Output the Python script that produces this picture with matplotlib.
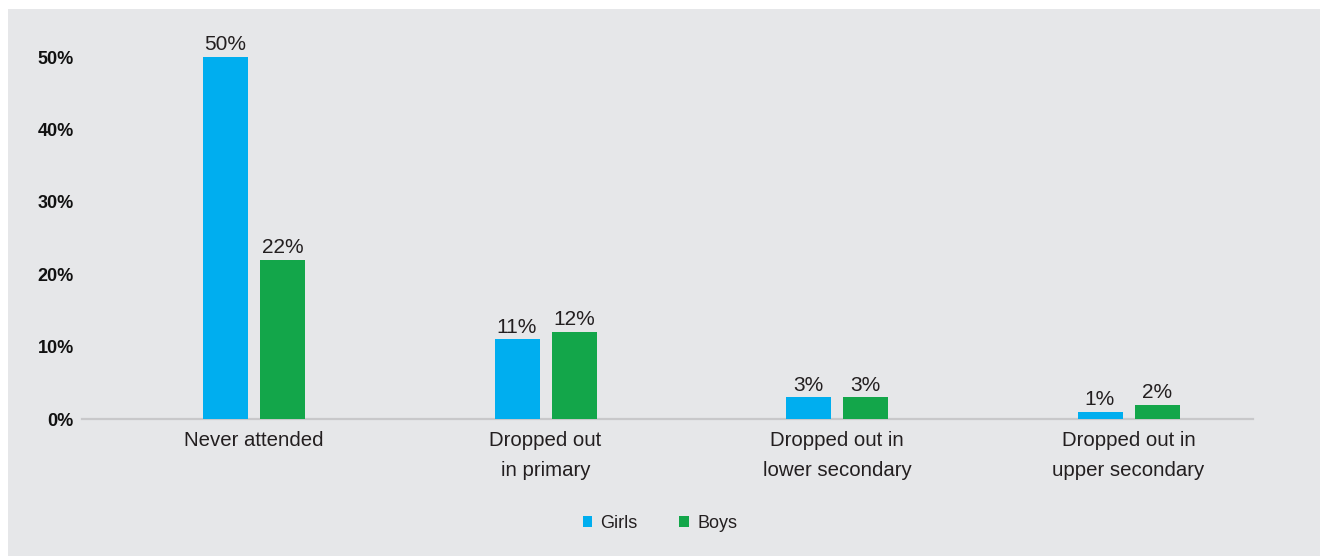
import matplotlib
matplotlib.use("Agg")
import matplotlib.pyplot as plt
from matplotlib.patches import Rectangle, Patch
import numpy as np

categories = ["Never attended", "Dropped out\nin primary", "Dropped out in\nlower secondary", "Dropped out in\nupper secondary"]
girls = [50, 11, 3, 1]
boys = [22, 12, 3, 2]
yticks = [0, 10, 20, 30, 40, 50]
ytick_labels = ["0%", "10%", "20%", "30%", "40%", "50%"]
series_names = ["Girls", "Boys"]

girl_color = "#00AEEF"
boy_color = "#13A64A"
bg = "#E6E7E9"
text_color = "#231F20"

plt.rcParams['font.family'] = ['Liberation Sans', 'DejaVu Sans']

W, H = 1320, 556
fig = plt.figure(figsize=(W/100, H/100), dpi=100)
fig.patch.set_facecolor("white")
fig.patches.append(Rectangle((8/W, 0), 1 - 8/W, (H - 9)/H, transform=fig.transFigure,
                             facecolor=bg, edgecolor="none", zorder=-10))

px_per_unit = 7.24
ytop = 55
ax_left, ax_right = 82, 1253
ax_bottom = 419
ax_h = ytop * px_per_unit
ax = fig.add_axes([ax_left/W, 1 - ax_bottom/H, (ax_right-ax_left)/W, ax_h/H])
ax.set_facecolor("none")

x = np.arange(len(categories))
unit = 291.5
bw = 45/unit
off = 28.5/unit
b1 = ax.bar(x - off, girls, bw, color=girl_color, label=series_names[0], zorder=3)
b2 = ax.bar(x + off, boys, bw, color=boy_color, label=series_names[1], zorder=3)

for bars, vals in ((b1, girls), (b2, boys)):
    for r, v in zip(bars, vals):
        ax.annotate(f"{v}%", (r.get_x() + r.get_width()/2, r.get_height()),
                    xytext=(0, 2), textcoords="offset points", ha="center", va="bottom",
                    fontsize=15, color=text_color)

ax.set_xlim((ax_left - 254)/unit, (ax_right - 254)/unit)
ax.set_ylim(0, ytop)
ax.set_yticks(yticks)
ax.set_yticklabels(ytick_labels, fontsize=13, fontweight="bold", color="#111111")
ax.set_xticks(x)
ax.set_xticklabels(categories, fontsize=14.7, color=text_color, linespacing=1.72)
ax.tick_params(axis="both", length=0)
ax.tick_params(axis="y", pad=6)
ax.tick_params(axis="x", pad=9)
for s in ["top", "right", "left"]:
    ax.spines[s].set_visible(False)
ax.spines["bottom"].set_color("#C8C8CA")
ax.spines["bottom"].set_linewidth(1.6)
ax.spines["bottom"].set_zorder(2)

handles = [Patch(facecolor=girl_color, edgecolor="none"), Patch(facecolor=boy_color, edgecolor="none")]
fig.legend(handles, series_names, loc="center", bbox_to_anchor=(660/W, 1 - 523/H),
           ncol=2, frameon=False, fontsize=13, handlelength=0.55, handleheight=0.55,
           handletextpad=0.45, columnspacing=2.3, labelcolor=text_color)

fig.savefig("out.png", dpi=100, facecolor=fig.get_facecolor())
